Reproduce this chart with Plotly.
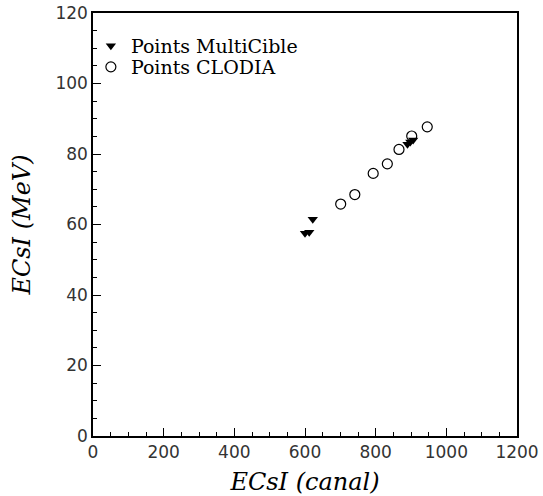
import plotly.graph_objects as go

# Data
multi_x = [600, 612, 622, 890, 898, 906]
multi_y = [57.5, 57.8, 61.5, 82.8, 83.4, 84.0]
clodia_x = [701, 741, 793, 833, 866, 902, 946]
clodia_y = [65.8, 68.5, 74.5, 77.2, 81.3, 85.1, 87.7]

x_ticks = [0, 200, 400, 600, 800, 1000, 1200]
y_ticks = [0, 20, 40, 60, 80, 100, 120]

fig = go.Figure()
fig.add_trace(go.Scatter(
    x=multi_x, y=multi_y, mode="markers", name="Points MultiCible",
    marker=dict(symbol="triangle-down", size=9, color="black", line=dict(width=0)),
    legend="legend",
))
fig.add_trace(go.Scatter(
    x=clodia_x, y=clodia_y, mode="markers", name="Points CLODIA",
    marker=dict(symbol="circle-open", size=10, color="black", line=dict(width=1.2)),
    legend="legend2",
))

tickfont = dict(family="DejaVu Sans", size=17, color="#333")
titlefont = dict(family="DejaVu Serif", size=24, color="black", style="italic")
legfont = dict(family="DejaVu Serif", size=19, color="black")

# plot area in page pixels: x 93-517, y 13-436 (body margin removed below)
W, H = 543, 496
leg_common = dict(xanchor="left", yanchor="middle", bgcolor="rgba(0,0,0,0)",
                  borderwidth=0, font=legfont, itemwidth=30)

fig.update_layout(
    width=W, height=H,
    margin=dict(l=93, r=W - 517, t=13, b=H - 436, autoexpand=False),
    paper_bgcolor="white", plot_bgcolor="white",
    showlegend=True,
    legend=dict(x=-0.005, y=(436 - 46) / 423, **leg_common),
    legend2=dict(x=-0.005, y=(436 - 67) / 423, **leg_common),
    xaxis=dict(
        range=[0, 1200], tickvals=x_ticks, ticktext=[str(v) for v in x_ticks],
        ticks="inside", ticklen=8, tickwidth=1, tickcolor="black",
        minor=dict(dtick=50, ticks="inside", ticklen=4, tickwidth=1, tickcolor="black"),
        showline=True, linecolor="black", linewidth=1.5, mirror=True,
        showgrid=False, zeroline=False, automargin=False,
        ticklabeloverflow="allow",
        tickfont=tickfont,
        title=dict(text="ECsI (canal)", font=titlefont, standoff=18),
    ),
    yaxis=dict(
        range=[0, 120], tickvals=y_ticks, ticktext=[str(v) for v in y_ticks],
        ticks="inside", ticklen=8, tickwidth=1, tickcolor="black",
        minor=dict(dtick=5, ticks="inside", ticklen=4, tickwidth=1, tickcolor="black"),
        showline=True, linecolor="black", linewidth=1.5, mirror=True,
        showgrid=False, zeroline=False, automargin=False,
        ticklabeloverflow="allow",
        tickfont=tickfont,
        title=dict(text="ECsI (MeV)", font=titlefont, standoff=18),
    ),
)

fig.write_html("out.html", config={"displayModeBar": False},
               post_script="document.body.style.margin='0';")
